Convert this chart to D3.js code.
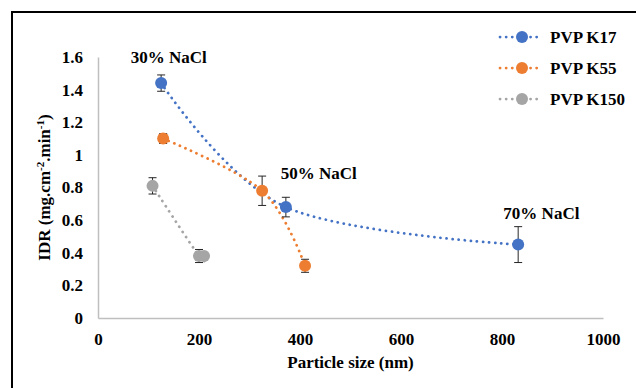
<!DOCTYPE html>
<html>
<head>
<meta charset="utf-8">
<script src="https://cdn.jsdelivr.net/npm/d3@7"></script>
<style>
  body { margin: 0; background: #fff; }
  svg text { font-family: "Times New Roman", "Liberation Serif", "DejaVu Serif", serif; font-weight: bold; fill: #000; }
</style>
</head>
<body>
<div class="chart"></div>
<script>
var svgWidth = 636;
var svgHeight = 388;

// data: particle size (nm), IDR, error
var seriesNames = ["PVP K17", "PVP K55", "PVP K150"];
var seriesColors = ["#4472C4", "#ED7D31", "#A5A5A5"];

var k17Size = [125, 372, 832];
var k17Idr = [1.44, 0.68, 0.45];
var k17Err = [0.05, 0.06, 0.11];

var k55Size = [129, 325, 410];
var k55Idr = [1.10, 0.78, 0.32];
var k55Err = [0.03, 0.09, 0.04];

var k150Size = [108, 200, 210];
var k150Idr = [0.81, 0.38, 0.38];
var k150Err = [0.05, 0.04, 0.0];

var xTicks = [0, 200, 400, 600, 800, 1000];
var yTicks = [0, 0.2, 0.4, 0.6, 0.8, 1, 1.2, 1.4, 1.6];

var annotations = [
  { text: "30% NaCl", x: 140, y: 1.60 },
  { text: "50% NaCl", x: 437, y: 0.89 },
  { text: "70% NaCl", x: 878, y: 0.645 }
];

var series = [
  { name: seriesNames[0], color: seriesColors[0], size: k17Size, idr: k17Idr, err: k17Err },
  { name: seriesNames[1], color: seriesColors[1], size: k55Size, idr: k55Idr, err: k55Err },
  { name: seriesNames[2], color: seriesColors[2], size: k150Size, idr: k150Idr, err: k150Err }
];
series.forEach(function(s) {
  s.points = s.size.map(function(v, i) { return { x: v, y: s.idr[i], e: s.err[i] }; });
});

var margin = { top: 57, right: 33, bottom: 70, left: 98 };
var width = svgWidth - margin.left - margin.right;
var height = svgHeight - margin.top - margin.bottom;

var svg = d3.select(".chart")
  .append("svg")
  .attr("width", svgWidth)
  .attr("height", svgHeight);

// outer frame
svg.append("rect")
  .attr("x", 12)
  .attr("y", 12)
  .attr("width", 660)
  .attr("height", 420)
  .attr("fill", "none")
  .attr("stroke", "#000")
  .attr("stroke-width", 2);

var chartGroup = svg.append("g")
  .attr("transform", `translate(${margin.left}, ${margin.top})`);

var xScale = d3.scaleLinear().domain([0, 1000]).range([0, width]);
var yScale = d3.scaleLinear().domain([0, 1.6]).range([height, 0]);

// axes
var bottomAxis = d3.axisBottom(xScale).tickValues(xTicks).tickSize(0).tickPadding(15).tickFormat(d3.format("d"));
var leftAxis = d3.axisLeft(yScale).tickValues(yTicks).tickSize(0).tickPadding(15).tickFormat(function(d) { return String(+d.toFixed(1)); });

var xAxis = chartGroup.append("g")
  .attr("transform", `translate(0, ${height})`)
  .call(bottomAxis);
var yAxis = chartGroup.append("g").call(leftAxis);

[xAxis, yAxis].forEach(function(a) {
  a.attr("font-family", null).attr("font-size", null);
  a.select(".domain").attr("stroke", "#BFBFBF").attr("stroke-width", 1.5);
  a.selectAll("text")
    .attr("font-size", "17px")
    .attr("fill", "#000");
});

// axis titles
chartGroup.append("text")
  .attr("x", width / 2)
  .attr("y", height + 50)
  .attr("text-anchor", "middle")
  .attr("font-size", "17px")
  .text("Particle size (nm)");

var yTitle = chartGroup.append("text")
  .attr("transform", `translate(-48, ${height / 2}) rotate(-90)`)
  .attr("text-anchor", "middle")
  .attr("font-size", "17px");
yTitle.append("tspan").text("IDR (mg.cm");
yTitle.append("tspan").attr("dy", -6).attr("font-size", "11px").text("-2");
yTitle.append("tspan").attr("dy", 6).text(".min");
yTitle.append("tspan").attr("dy", -6).attr("font-size", "11px").text("-1");
yTitle.append("tspan").attr("dy", 6).text(")");

// smoothed dotted lines
var line = d3.line()
  .x(d => xScale(d.x))
  .y(d => yScale(d.y))
  .curve(d3.curveCatmullRom.alpha(0));

series.forEach(function(s) {
  chartGroup.append("path")
    .datum(s.points)
    .attr("d", line)
    .attr("fill", "none")
    .attr("stroke", s.color)
    .attr("stroke-width", 2.75)
    .attr("stroke-linecap", "round")
    .attr("stroke-dasharray", "0.1 6");
});

// error bars
series.forEach(function(s) {
  var eb = chartGroup.append("g");
  s.points.filter(d => d.e > 0).forEach(function(d) {
    var cx = xScale(d.x);
    var y1 = yScale(d.y + d.e);
    var y2 = yScale(d.y - d.e);
    eb.append("line").attr("x1", cx).attr("x2", cx).attr("y1", y1).attr("y2", y2);
    eb.append("line").attr("x1", cx - 4).attr("x2", cx + 4).attr("y1", y1).attr("y2", y1);
    eb.append("line").attr("x1", cx - 4).attr("x2", cx + 4).attr("y1", y2).attr("y2", y2);
  });
  eb.selectAll("line").attr("stroke", "#262626").attr("stroke-width", 1);
});

// markers
series.forEach(function(s) {
  chartGroup.selectAll(null)
    .data(s.points)
    .enter()
    .append("circle")
    .attr("cx", d => xScale(d.x))
    .attr("cy", d => yScale(d.y))
    .attr("r", 6)
    .attr("fill", s.color);
});

// annotations
chartGroup.selectAll(null)
  .data(annotations)
  .enter()
  .append("text")
  .attr("x", d => xScale(d.x))
  .attr("y", d => yScale(d.y))
  .attr("dy", "0.35em")
  .attr("text-anchor", "middle")
  .attr("font-size", "17px")
  .text(d => d.text);

// legend
var legend = svg.append("g").attr("transform", "translate(500, 37)");
series.forEach(function(s, i) {
  var row = legend.append("g").attr("transform", `translate(0, ${i * 31})`);
  row.append("line")
    .attr("x1", 0).attr("x2", 42).attr("y1", 0).attr("y2", 0)
    .attr("stroke", s.color)
    .attr("stroke-width", 2.75)
    .attr("stroke-linecap", "round")
    .attr("stroke-dasharray", "0.1 6");
  row.append("circle").attr("cx", 22).attr("cy", 0).attr("r", 6).attr("fill", s.color);
  row.append("text")
    .attr("x", 50)
    .attr("y", 0)
    .attr("dy", "0.35em")
    .attr("font-size", "17px")
    .text(s.name);
});
</script>
</body>
</html>
